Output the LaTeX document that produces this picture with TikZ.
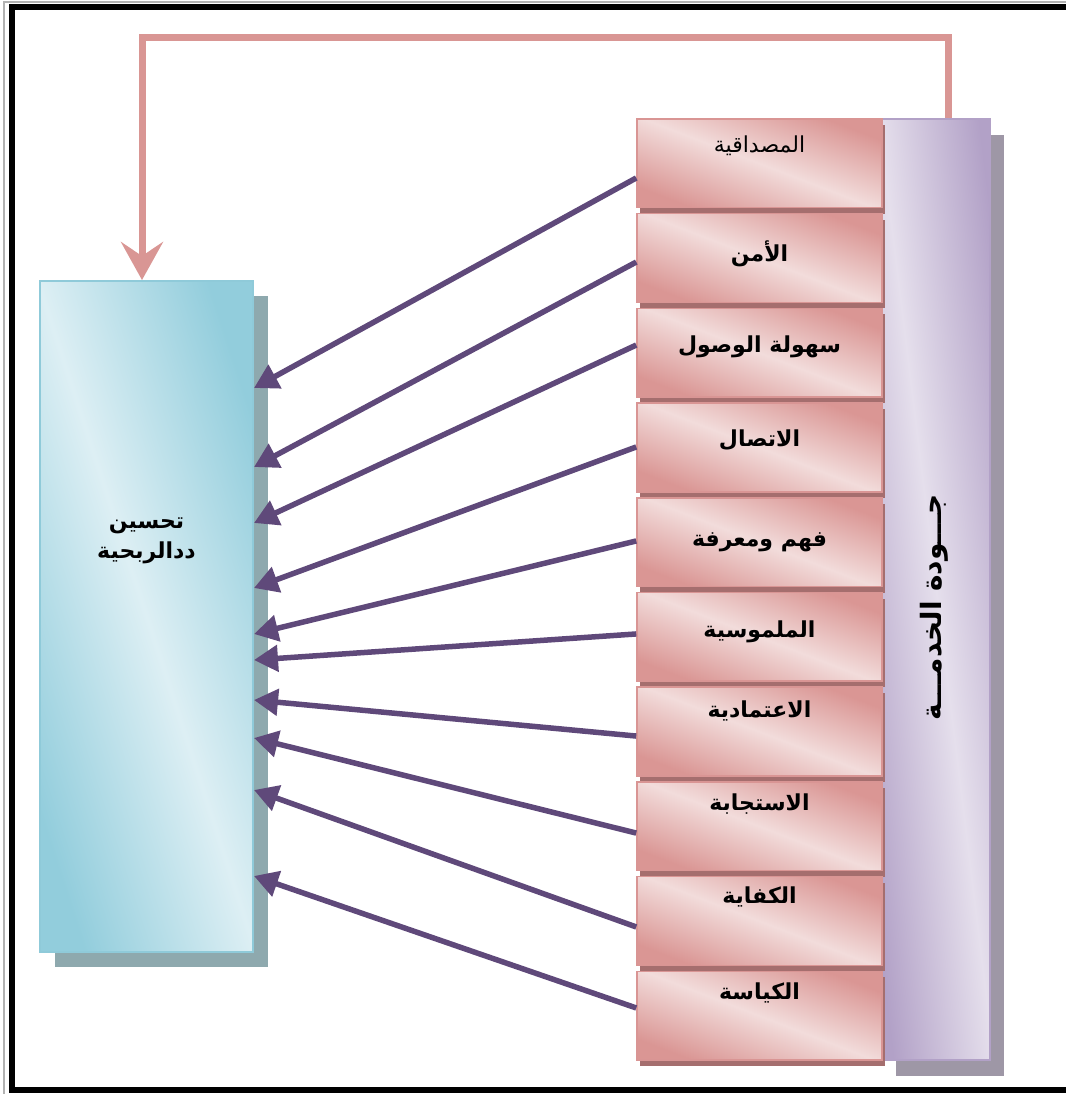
\documentclass[tikz,border=0pt]{standalone}
\usepackage{fontspec}
\newfontfamily\arabicfont[Script=Arabic]{DejaVu Sans}
\TeXXeTstate=1
\usetikzlibrary{arrows.meta,shadows}

\definecolor{pinkdark}{HTML}{DA9694}
\definecolor{pinklight}{HTML}{F2DCDB}
\definecolor{pinkedge}{HTML}{D99594}
\definecolor{pinkshade}{HTML}{A56E6E}
\definecolor{bluedark}{HTML}{92CDDC}
\definecolor{bluelight}{HTML}{DDEFF4}
\definecolor{blueedge}{HTML}{8FCAD9}
\definecolor{blueshade}{HTML}{8EA9AE}
\definecolor{purpdark}{HTML}{B2A1C7}
\definecolor{purplight}{HTML}{E5DFEC}
\definecolor{purpshade}{HTML}{9E97A6}
\definecolor{arrowpurp}{HTML}{5F497A}
\definecolor{looppink}{HTML}{D99694}

\begin{document}
\begin{tikzpicture}[x=1pt,y=-1pt,
 dim/.style={draw=pinkedge,line width=1.5pt,minimum width=245pt,minimum height=88.7pt,inner sep=0pt,
  top color=pinkdark,bottom color=pinkdark,middle color=pinklight,shading angle=-21,
  drop shadow={shadow xshift=3pt,shadow yshift=-6pt,fill=pinkshade,opacity=1}},
 impbox/.style={draw=blueedge,line width=2pt,minimum width=213pt,minimum height=671pt,inner sep=0pt,
  top color=bluedark,bottom color=bluedark,middle color=bluelight,shading angle=-72,
  drop shadow={shadow xshift=15pt,shadow yshift=-15pt,fill=blueshade,opacity=1}},
 svcbox/.style={draw=purpdark,line width=2pt,minimum width=108pt,minimum height=941pt,inner sep=0pt,
  top color=purpdark,bottom color=purpdark,middle color=purplight,shading angle=-83,
  drop shadow={shadow xshift=14pt,shadow yshift=-16pt,fill=purpshade,opacity=1}},
 lbl/.style={font=\arabicfont\fontsize{22}{26}\selectfont,inner sep=0pt},
 big/.style={font=\arabicfont\bfseries\fontsize{28}{32}\selectfont,inner sep=0pt},
 arr/.style={draw=arrowpurp,line width=5.5pt,-{Triangle[length=24pt,width=26pt]}},
 back/.style={draw=looppink,line width=7pt,-{Stealth[length=38pt,width=42pt,inset=14pt]}}]
\useasboundingbox (0,0) rectangle (1065,1094);
% page frame
\draw[gray!60,line width=1.2pt] (4,2) rectangle (1080,1100);
\draw[black,line width=6pt] (12,7.5) rectangle (1075,1090);
% outcome box
\node[impbox] (imp) at (146.5,616.5) {};
\node[lbl,font=\arabicfont\bfseries\fontsize{22}{30}\selectfont,align=center] (impt) at ([yshift=76pt]imp.center)
 {\beginR تحسين\endR\\\beginR ددالربحية\endR};
% service quality bar
\node[svcbox] (svc) at (936,589.5) {};
\node[big,rotate=90] (svct) at ([xshift=-2pt,yshift=-18pt]svc.center) {\beginR جـــودة الخدمـــة\endR};
% dimensions and their arrows
\foreach \i/\ty/\sy/\ey/\w/\t in {
 1/28/-14.6/228.5/\mdseries/{المصداقية},
 2/41/-4/149.5/\bfseries/{الأمن},
 3/39/7.7/93.5/\bfseries/{سهولة الوصول},
 4/38/0.5/28.5/\bfseries/{الاتصال},
 5/45/1.2/-17.5/\bfseries/{فهم ومعرفة},
 6/40/2.9/-43.5/\bfseries/{الملموسية},
 7/25/-4.5/-83.5/\bfseries/{الاعتمادية},
 8/23/-6.8/-121.5/\bfseries/{الاستجابة},
 9/21/-6/-173.5/\bfseries/{الكفاية},
 10/22/7.7/-259.5/\bfseries/{الكياسة}}{
 \node[dim] (d\i) at (759.5,{163.35+94.7*(\i-1)}) {};
 \node[lbl] (t\i) at ([yshift=-\ty pt]d\i.north) {\w\beginR\t\endR};
 \draw[arr] ([yshift=\sy pt]d\i.west) -- ([yshift=\ey pt]imp.east);
}
% feedback loop
\coordinate (lp) at (142,38);
\draw[back] ([xshift=12pt]svc.north) |- (lp) -- (lp |- imp.north);
\end{tikzpicture}
\end{document}
